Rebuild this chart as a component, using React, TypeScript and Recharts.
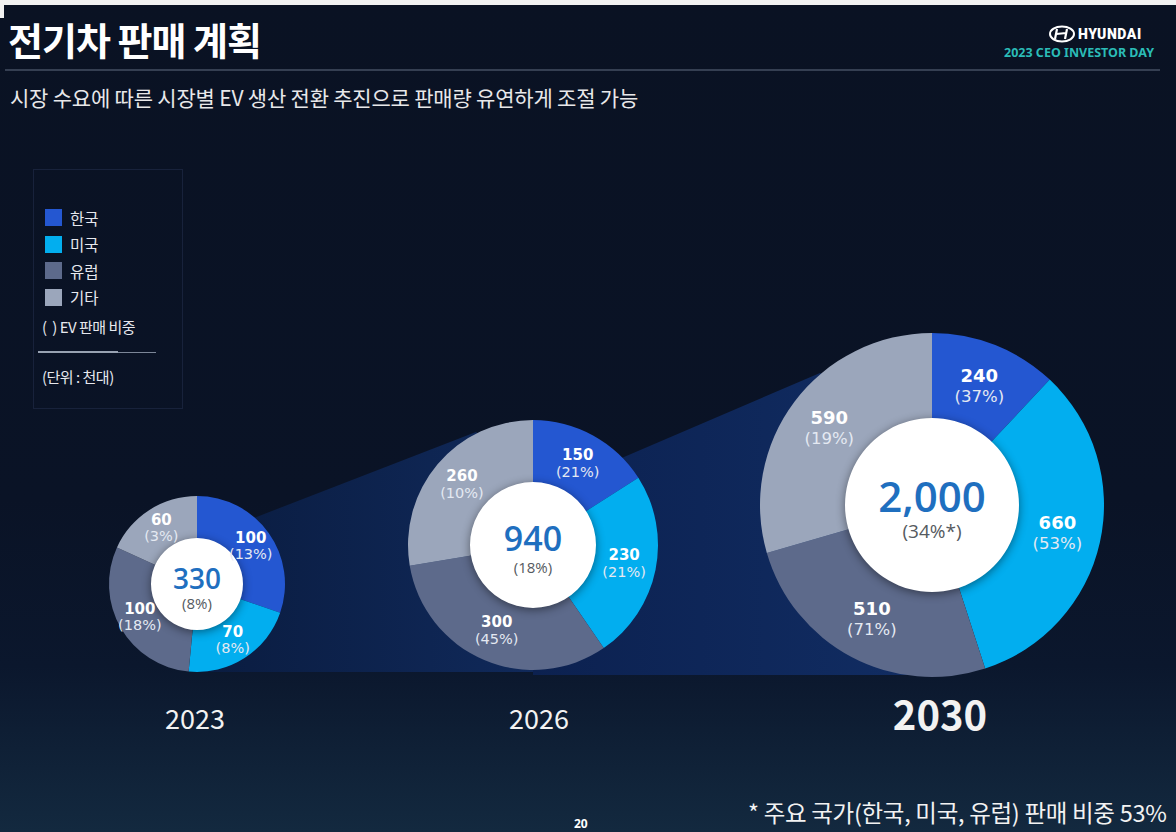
import { PieChart, Pie, Cell } from 'recharts';

const regions = ['한국', '미국', '유럽', '기타'];
const regionColors = ['#2457d1', '#02aeef', '#5d6a8b', '#9ba6bb'];
const years = ['2023', '2026', '2030'];
const sales2023 = [100, 70, 100, 60];
const sales2026 = [150, 230, 300, 260];
const sales2030 = [240, 660, 510, 590];
const evShare2023 = [13, 8, 18, 3];
const evShare2026 = [21, 21, 45, 10];
const evShare2030 = [37, 53, 71, 19];
const totals = [330, 940, 2000];
const totalShares = ['(8%)', '(18%)', '(34%*)'];

const KR = '"Noto Sans CJK KR", "Noto Sans", sans-serif';
const NUM = '"DejaVu Sans", Verdana, sans-serif';
const OPEN = '"Open Sans", "Noto Sans", sans-serif';
const RADIAN = Math.PI / 180;

// position and type size for each donut
const layout = [
    { cx: 197, cy: 584, inner: 46, outer: 88, valSize: 15, pctSize: 14.5, gap: 16, totSize: 28, totPct: 15, pctOff: 0.68 },
    { cx: 533, cy: 545, inner: 63, outer: 125, valSize: 15, pctSize: 14.5, gap: 17, totSize: 34, totPct: 15, pctOff: 0.64 },
    { cx: 932, cy: 505, inner: 87, outer: 172, valSize: 18, pctSize: 16.5, gap: 21, totSize: 42, totPct: 19, pctOff: 0.62 },
];

const sales = [sales2023, sales2026, sales2030];
const shares = [evShare2023, evShare2026, evShare2030];

const series = years.map((y, k) =>
    regions.map((r, i) => ({ name: r, value: sales[k][i], share: shares[k][i] }))
);

function ringLabel(k: number) {
    const L = layout[k];
    return (p: any) => {
        const r = (p.innerRadius + p.outerRadius) / 2;
        const x = p.cx + r * Math.cos(-p.midAngle * RADIAN);
        const y = p.cy + r * Math.sin(-p.midAngle * RADIAN);
        const d = series[k][p.index];
        return (
            <g key={`lbl-${k}-${p.index}`}>
                <text x={x} y={y - L.gap / 2} textAnchor="middle" dominantBaseline="central"
                      fill="#ffffff" fontFamily={NUM} fontWeight="bold" fontSize={L.valSize}>
                    {d.value}
                </text>
                <text x={x} y={y + L.gap / 2} textAnchor="middle" dominantBaseline="central"
                      fill="#e4e9f2" fontFamily={NUM} fontSize={L.pctSize}>
                    ({d.share}%)
                </text>
            </g>
        );
    };
}

function centerLabel(k: number) {
    const L = layout[k];
    return (p: any) => (
        <g key={`ctr-${k}`}>
            <text x={p.cx} y={p.cy - L.totSize * 0.22} textAnchor="middle" dominantBaseline="central"
                  fill="#1f6fbf" fontFamily={OPEN} fontWeight={600} fontSize={L.totSize}>
                {totals[k].toLocaleString('en-US')}
            </text>
            <text x={p.cx} y={p.cy + L.totSize * L.pctOff} textAnchor="middle" dominantBaseline="central"
                  fill="#555a60" fontFamily={OPEN} fontSize={L.totPct}>
                {totalShares[k]}
            </text>
        </g>
    );
}

export default function App() {
    return (
        <div style={{
            position: 'absolute', left: 0, top: 0, width: 1176, height: 832, overflow: 'hidden',
            background: 'linear-gradient(180deg, #0a1223 0%, #0a1326 60%, #0b172d 80%, #13293f 100%)',
            fontFamily: KR,
        }}>
            <div style={{ position: 'absolute', left: 0, top: 0, width: 1176, height: 5, background: '#f2f2f2' }} />
            <div style={{ position: 'absolute', left: 0, top: 0, width: 4, height: 18, background: '#f2f2f2' }} />

            {/* header */}
            <div style={{ position: 'absolute', left: 8, top: 14, color: '#fff', fontSize: 38, fontWeight: 700, letterSpacing: -1, lineHeight: '50px' }}>
                전기차 판매 계획
            </div>
            <div style={{ position: 'absolute', left: 5, top: 69, width: 1155, height: 2, background: '#353f52' }} />
            <div style={{ position: 'absolute', left: 10, top: 82, color: '#e8e8ea', fontSize: 21, lineHeight: '30px', letterSpacing: -0.2 }}>
                시장 수요에 따른 시장별 EV 생산 전환 추진으로 판매량 유연하게 조절 가능
            </div>

            <svg style={{ position: 'absolute', left: 1048, top: 24 }} width={108} height={20}>
                <g transform="translate(14,10)">
                    <ellipse cx={0} cy={0} rx={12} ry={7.5} fill="none" stroke="#fff" strokeWidth={2} />
                    <path d="M-5,-5 L-7,5 M5,-5 L3,5 M-5.5,0 L4,-1" stroke="#fff" strokeWidth={2.2} fill="none" />
                </g>
                <text x={30} y={15} fill="#fff" fontFamily="Roboto, sans-serif" fontWeight={900} fontSize={14} letterSpacing={0.6}>
                    HYUNDAI
                </text>
            </svg>
            <div style={{ position: 'absolute', right: 22, top: 44, color: '#2bbcb7', fontSize: 12.5, fontWeight: 700, fontFamily: '"Noto Sans", sans-serif', lineHeight: '18px' }}>
                2023 CEO INVESTOR DAY
            </div>

            {/* legend */}
            <div style={{ position: 'absolute', left: 33, top: 169, width: 148, height: 238, border: '1px solid #18223b' }} />
            {regions.map((r, i) => (
                <div key={r} style={{ position: 'absolute', left: 45, top: 208 + i * 26.5, display: 'flex', alignItems: 'center', height: 19 }}>
                    <span style={{ width: 17, height: 17, background: regionColors[i], display: 'inline-block' }} />
                    <span style={{ marginLeft: 8, color: '#e6e8ee', fontSize: 15.5 }}>{r}</span>
                </div>
            ))}
            <div style={{ position: 'absolute', left: 42, top: 316, color: '#e6e8ee', fontSize: 15, lineHeight: '22px', letterSpacing: -0.5 }}>
                (&nbsp;&nbsp;) EV 판매 비중
            </div>
            <div style={{ position: 'absolute', left: 38, top: 351, width: 80, height: 2, background: '#98a2b2' }} />
            <div style={{ position: 'absolute', left: 118, top: 351.5, width: 38, height: 1, background: '#7c8698' }} />
            <div style={{ position: 'absolute', left: 42, top: 366, color: '#e6e8ee', fontSize: 15, lineHeight: '22px', letterSpacing: -0.5 }}>
                (단위 : 천대)
            </div>

            {/* funnel backdrop between the donuts */}
            <svg style={{ position: 'absolute', left: 0, top: 0 }} width={1176} height={832}>
                <defs>
                    <linearGradient id="f1" x1="0" x2="1" y1="0" y2="0">
                        <stop offset="0%" stopColor="#0a1c40" />
                        <stop offset="100%" stopColor="#10295a" />
                    </linearGradient>
                    <linearGradient id="f2" x1="0" x2="1" y1="0" y2="0">
                        <stop offset="0%" stopColor="#0c2150" />
                        <stop offset="100%" stopColor="#112d63" />
                    </linearGradient>
                </defs>
                <polygon points="197,540 476,432 533,480 533,672 197,672" fill="url(#f1)" />
                <polygon points="533,496 820,373 932,450 932,675 533,675" fill="url(#f2)" />
            </svg>

            <PieChart width={1176} height={832} style={{ position: 'absolute', left: 0, top: 0 }}
                      margin={{ top: 0, right: 0, bottom: 0, left: 0 }}>
                {series.map((data, k) => (
                    <Pie key={`ring-${k}`} data={data} dataKey="value" nameKey="name"
                         cx={layout[k].cx} cy={layout[k].cy}
                         innerRadius={layout[k].inner - 2} outerRadius={layout[k].outer}
                         startAngle={90} endAngle={-270} stroke="none"
                         label={ringLabel(k)} labelLine={false} isAnimationActive={false}>
                        {data.map((d, i) => (
                            <Cell key={`c-${k}-${i}`} fill={regionColors[i]} />
                        ))}
                    </Pie>
                ))}
                {years.map((y, k) => (
                    <Pie key={`center-${k}`} data={[{ name: y, value: totals[k] }]} dataKey="value"
                         cx={layout[k].cx} cy={layout[k].cy} innerRadius={0} outerRadius={layout[k].inner}
                         startAngle={90} endAngle={-270} stroke="none"
                         label={centerLabel(k)} labelLine={false} isAnimationActive={false}>
                        <Cell fill="#ffffff" style={{ filter: 'drop-shadow(0px 2px 5px rgba(0,0,0,0.45))' }} />
                    </Pie>
                ))}
            </PieChart>

            {/* year captions */}
            {years.map((y, k) => (
                <div key={y} style={{
                    position: 'absolute', left: [195, 539, 940][k] - 80, width: 160, textAlign: 'center',
                    top: k === 2 ? 688 : 700, color: '#f2f2f2',
                    fontSize: k === 2 ? 40 : 27, fontWeight: k === 2 ? 700 : 400, lineHeight: k === 2 ? '50px' : '36px',
                }}>
                    {y}
                </div>
            ))}

            <div style={{ position: 'absolute', left: 748, top: 795, color: '#f2f2f2', fontSize: 23.5, lineHeight: '34px', whiteSpace: 'nowrap', letterSpacing: -0.3 }}>
                * 주요 국가(한국, 미국, 유럽) 판매 비중 53%
            </div>
            <div style={{ position: 'absolute', left: 574, top: 816, color: '#fff', fontSize: 12, fontWeight: 700, fontFamily: '"Noto Sans", sans-serif', lineHeight: '16px' }}>
                20
            </div>
        </div>
    );
}
